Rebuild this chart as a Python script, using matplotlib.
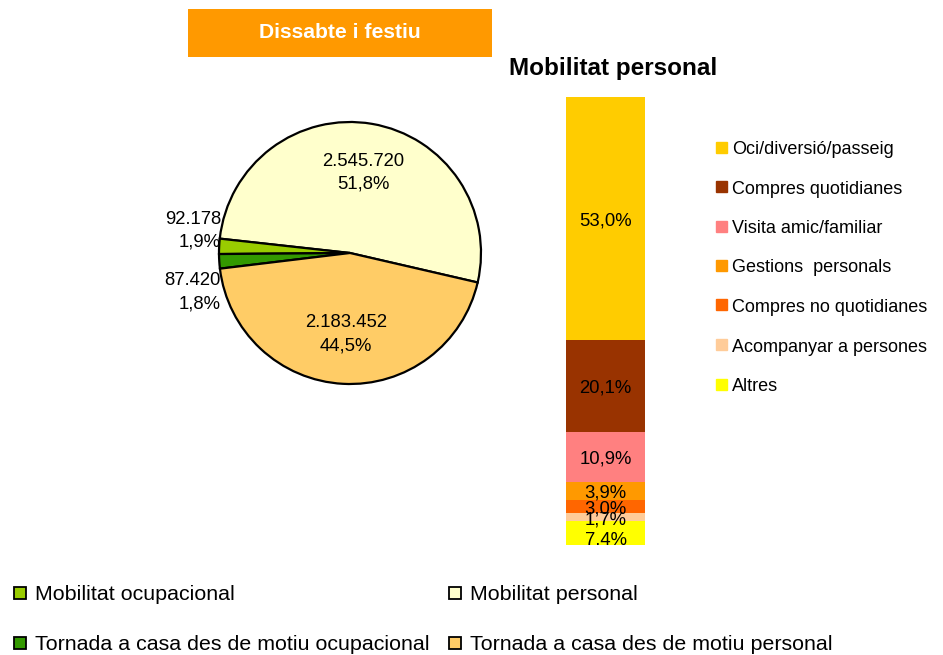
import matplotlib
matplotlib.use('Agg')
import matplotlib.pyplot as plt
from matplotlib.patches import Rectangle
import numpy as np

plt.rcParams['font.family'] = ['Liberation Sans', 'DejaVu Sans']

# pie data (Dissabte i festiu)
pie_labels = ['Mobilitat personal', 'Mobilitat ocupacional',
              'Tornada a casa des de motiu ocupacional',
              'Tornada a casa des de motiu personal']
pie_values = [2545720, 92178, 87420, 2183452]
pie_pcts = [51.8, 1.9, 1.8, 44.5]
pie_colors = ['#FFFFCC', '#99CC00', '#339900', '#FFCC66']

# stacked bar (Mobilitat personal by motive)
bar_labels = ['Oci/diversió/passeig', 'Compres quotidianes', 'Visita amic/familiar',
              'Gestions  personals', 'Compres no quotidianes', 'Acompanyar a persones',
              'Altres']
bar_values = [53.0, 20.1, 10.9, 3.9, 3.0, 1.7, 7.4]
bar_colors = ['#FFCC00', '#993300', '#FF8080', '#FF9900', '#FF6600', '#FFCC99', '#FFFF00']

W, H = 943, 655


def box(x0, y0, x1, y1):
    # pixel box (top-left origin) -> figure fraction rect
    return [x0 / W, 1 - y1 / H, (x1 - x0) / W, (y1 - y0) / H]


def fmt_num(v):
    return f'{v:,}'.replace(',', '.')


def fmt_pct(p):
    return f'{p:.1f}%'.replace('.', ',')


fig = plt.figure(figsize=(W / 100, H / 100), dpi=100)

# banner
ax_b = fig.add_axes(box(188, 9, 492, 57))
ax_b.set_axis_off()
ax_b.add_patch(Rectangle((0, 0), 1, 1, color='#FF9900', transform=ax_b.transAxes))
ax_b.text(0.5, 0.5, 'Dissabte i festiu', color='white', fontsize=15.2, fontweight='bold',
          ha='center', va='center', transform=ax_b.transAxes)

# pie
ax_p = fig.add_axes(box(219, 122, 481, 384))
wedges, _ = ax_p.pie(pie_values, colors=pie_colors, startangle=-13, counterclock=True,
                     wedgeprops=dict(edgecolor='black', linewidth=1.6))
ax_p.set_xlim(-1, 1)
ax_p.set_ylim(-1, 1)
ax_p.set_aspect('equal')
ax_p.set_axis_off()
for w, v, p in zip(wedges, pie_values, pie_pcts):
    mid = np.deg2rad((w.theta1 + w.theta2) / 2)
    txt = fmt_num(v) + '\n' + fmt_pct(p)
    if p > 10:
        ax_p.text(0.62 * np.cos(mid), 0.62 * np.sin(mid), txt, ha='center', va='center',
                  fontsize=13.3, linespacing=1.45)
    else:
        dy = 0.17 if np.sin(mid) > 0 else -0.30
        ax_p.text(-0.985, dy, txt, ha='right', va='center', fontsize=13.3,
                  linespacing=1.45, clip_on=False)

# stacked bar
ax_s = fig.add_axes(box(566, 97, 645, 545))
bottom = 0
for lab, v, c in zip(bar_labels, bar_values, bar_colors):
    ax_s.bar(0.5, v, bottom=bottom, width=1, color=c, linewidth=0)
    ax_s.text(0.5, bottom + v / 2 + 0.5, fmt_pct(v), ha='center', va='center',
              fontsize=13.3, clip_on=True)
    bottom += v
ax_s.set_xlim(0, 1)
ax_s.set_ylim(97.8, 0)
ax_s.set_axis_off()

fig.text(613 / W, 1 - 68 / H, 'Mobilitat personal', fontsize=17.5, fontweight='bold',
         ha='center', va='center')

# right legend
for i, (lab, c) in enumerate(zip(bar_labels, bar_colors)):
    yc = 149.5 + i * 39.5
    fig.patches.append(Rectangle((716 / W, 1 - (yc + 3) / H), 11 / W, 11 / H,
                                 color=c, transform=fig.transFigure))
    fig.text(732 / W, 1 - yc / H, lab, fontsize=13, ha='left', va='center')

# bottom legend
order = [1, 0, 2, 3]
for k, idx in enumerate(order):
    col, row = k % 2, k // 2
    x0 = 14 if col == 0 else 449
    yc = 593 + row * 50
    fig.patches.append(Rectangle((x0 / W, 1 - (yc + 6) / H), 12 / W, 12 / H,
                                 facecolor=pie_colors[idx], edgecolor='black', linewidth=1.3,
                                 transform=fig.transFigure))
    fig.text((x0 + 21) / W, 1 - (yc + 1) / H, pie_labels[idx], fontsize=15.4,
             ha='left', va='center')

fig.savefig('out.png', dpi=100)
